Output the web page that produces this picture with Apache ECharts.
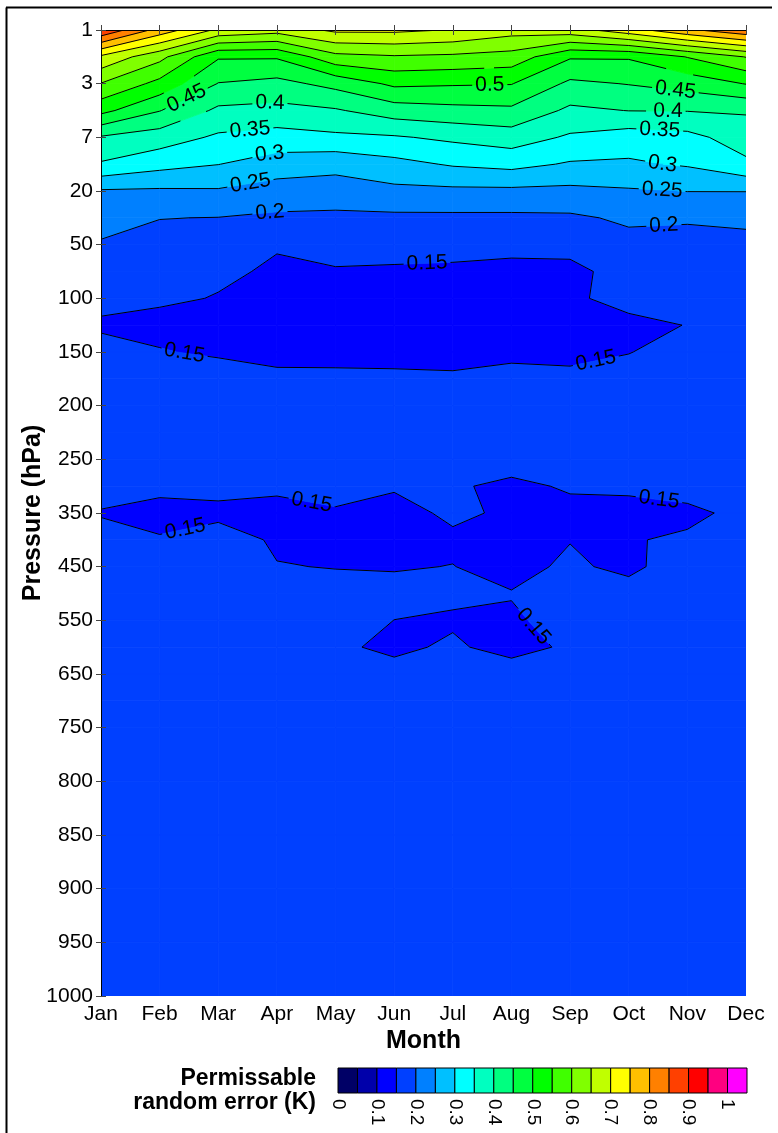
<!DOCTYPE html>
<html><head><meta charset="utf-8">
<script src="https://cdn.jsdelivr.net/npm/echarts@6/dist/echarts.min.js"></script>
<style>html,body{margin:0;padding:0;background:#fff}#c{width:778px;height:1133px}</style>
</head><body><div id="c"></div>
<script>
// ---------- data ----------
const months = ['Jan','Feb','Mar','Apr','May','Jun','Jul','Aug','Sep','Oct','Nov','Dec'];
const tickLevels = [1,3,7,20,50,100,150,200,250,350,450,550,650,750,800,850,900,950,1000];
const rowPressures = [1,2,3,5,7,13.5,20,35,50,75,100,125,150,175,200,225,250,300,350,400,450,500,550,600,650,700,750,800,850,900,950,1000];
const jan = [0.895,0.69,0.598,0.515,0.395,0.345,0.245,0.22,0.195,0.175,0.16,0.145,0.162,0.17,0.172,0.17,0.165,0.162,0.148,0.16,0.165,0.168,0.17,0.17,0.172,0.172,0.173,0.174,0.175,0.175,0.176,0.176];
const feb = [0.78,0.615,0.535,0.452,0.375,0.317,0.243,0.201,0.185,0.172,0.155,0.14,0.152,0.17,0.172,0.168,0.16,0.156,0.142,0.152,0.162,0.166,0.168,0.17,0.17,0.172,0.173,0.174,0.175,0.175,0.176,0.176];
const mar = [0.69,0.505,0.448,0.39,0.342,0.301,0.245,0.199,0.175,0.155,0.1485,0.14,0.145,0.168,0.172,0.168,0.163,0.1598,0.142,0.1649,0.168,0.17,0.17,0.17,0.172,0.172,0.173,0.174,0.175,0.175,0.176,0.176];
const apr = [0.67,0.505,0.435,0.385,0.33,0.277,0.228,0.192,0.152,0.1462,0.138,0.135,0.14,0.1575,0.17,0.168,0.162,0.1558,0.14,0.1456,0.1512,0.165,0.168,0.17,0.17,0.172,0.173,0.174,0.175,0.175,0.176,0.176];
const may = [0.71,0.585,0.465,0.395,0.34,0.265,0.2275,0.189,0.175,0.1445,0.138,0.135,0.14,0.157,0.168,0.167,0.165,0.17,0.1439,0.142,0.149,0.16,0.165,0.1541,0.165,0.168,0.172,0.174,0.175,0.175,0.176,0.176];
const jun = [0.71,0.595,0.51,0.425,0.345,0.285,0.238,0.19,0.175,0.1412,0.137,0.135,0.14,0.156,0.166,0.165,0.162,0.153,0.14,0.14,0.148,0.1585,0.1498,0.145,0.1585,0.165,0.168,0.172,0.174,0.175,0.176,0.176];
const jul = [0.698,0.59,0.505,0.435,0.36,0.305,0.24,0.19,0.175,0.137,0.135,0.135,0.141,0.1539,0.163,0.165,0.165,0.155,0.1554,0.1448,0.1506,0.155,0.1468,0.1538,0.163,0.166,0.17,0.172,0.174,0.175,0.176,0.176];
const aug = [0.67,0.58,0.502,0.44,0.375,0.315,0.24,0.19,0.165,0.135,0.135,0.135,0.14,0.164,0.168,0.17,0.168,0.141,0.1454,0.138,0.14,0.1515,0.1459,0.1407,0.1634,0.166,0.17,0.172,0.174,0.175,0.176,0.176];
const sep = [0.68,0.505,0.44,0.39,0.343,0.295,0.238,0.192,0.172,0.1316,0.145,0.138,0.14,0.159,0.168,0.17,0.168,0.1546,0.1387,0.149,0.1555,0.162,0.1605,0.1542,0.165,0.168,0.17,0.172,0.174,0.175,0.176,0.176];
const oct = [0.73,0.505,0.452,0.401,0.325,0.293,0.245,0.208,0.185,0.178,0.1602,0.142,0.1485,0.1685,0.172,0.17,0.165,0.1556,0.14,0.1485,0.142,0.1636,0.168,0.168,0.17,0.172,0.173,0.174,0.175,0.175,0.176,0.176];
const nov = [0.79,0.552,0.47,0.402,0.335,0.305,0.251,0.207,0.178,0.18,0.17,0.1508,0.168,0.172,0.172,0.17,0.165,0.1589,0.145,0.1532,0.169,0.17,0.172,0.172,0.173,0.173,0.174,0.174,0.175,0.175,0.176,0.176];
const dec = [0.84,0.602,0.502,0.405,0.375,0.34,0.251,0.215,0.18,0.178,0.175,0.172,0.172,0.172,0.172,0.17,0.165,0.16,0.1559,0.16,0.168,0.17,0.172,0.172,0.173,0.173,0.174,0.174,0.175,0.175,0.176,0.176];
const contourLevels = [0.05,0.1,0.15,0.2,0.25,0.3,0.35,0.4,0.45,0.5,0.55,0.6,0.65,0.7,0.75,0.8,0.85,0.9,0.95,1.0];
const bandColors = ['#000066','#0000aa','#0000ff','#0040ff','#0080ff','#00c0ff','#00ffff','#00ffc0','#00ff80','#00ff40','#00ff00','#40ff00','#80ff00','#c0ff00','#ffff00','#ffc000','#ff8000','#ff4000','#ff0000','#ff0080','#ff00ff'];
const legendTicks = ['0','0.1','0.2','0.3','0.4','0.5','0.6','0.7','0.8','0.9','1'];
// contour label: text, approx month position, approx pressure
const contourLabels = [
  ['0.45',1.45,4],['0.4',2.88,4.36],['0.35',2.54,6.4],['0.3',2.88,11.3],['0.25',2.54,17.4],['0.2',2.88,31.7],
  ['0.5',6.63,3],['0.45',9.8,3.3],['0.4',9.67,5],['0.35',9.53,6.4],['0.3',9.58,13.2],['0.25',9.57,19.7],['0.2',9.6,39.5],
  ['0.15',5.56,67],['0.15',1.43,148],['0.15',8.44,158.5],['0.15',3.6,326],['0.15',1.42,372],['0.15',9.52,322],['0.15',7.4,559]
];

// ---------- helpers ----------
const columns = [jan,feb,mar,apr,may,jun,jul,aug,sep,oct,nov,dec];
const FONT = '"Liberation Sans", Arial, Helvetica, sans-serif';
const LABEL_FONT = '21px ' + FONT;
function pIdx(p){
  for (let i=0;i<tickLevels.length-1;i++){
    if (p<=tickLevels[i+1]) return i+(p-tickLevels[i])/(tickLevels[i+1]-tickLevels[i]);
  }
  return tickLevels.length-1;
}
const rowIdx = rowPressures.map(pIdx);
const cells = [];
for (let c=0;c<columns.length-1;c++) for (let r=0;r<rowPressures.length-1;r++)
  cells.push([c+0.5,(rowIdx[r]+rowIdx[r+1])/2,c,r]);

function lerp(a,b,t){return [a[0]+t*(b[0]-a[0]),a[1]+t*(b[1]-a[1])];}
function clipBand(pts,vals,lo,hi){
  const out=[];
  for (let i=0;i<4;i++){
    const j=(i+1)%4, a=vals[i], b=vals[j];
    if (a>=lo && a<hi) out.push(pts[i]);
    const cr=[];
    [lo,hi].forEach(L=>{
      if (!isFinite(L)) return;
      if ((a-L)*(b-L)<0){const t=(L-a)/(b-a);cr.push([t,lerp(pts[i],pts[j],t)]);}
    });
    cr.sort((p,q)=>p[0]-q[0]);
    cr.forEach(x=>out.push(x[1]));
  }
  return out;
}
function cellSegs(pts,vals,L){
  const cr=[];
  for (let i=0;i<4;i++){
    const j=(i+1)%4,a=vals[i],b=vals[j];
    if ((a-L)*(b-L)<0) cr.push(lerp(pts[i],pts[j],(L-a)/(b-a)));
  }
  if (cr.length===2) return [[cr[0],cr[1]]];
  if (cr.length===4){
    const cv=(vals[0]+vals[1]+vals[2]+vals[3])/4;
    if ((cv-L)*(vals[0]-L)>0) return [[cr[0],cr[1]],[cr[2],cr[3]]];
    return [[cr[3],cr[0]],[cr[1],cr[2]]];
  }
  return [];
}
function cellGeom(api,c,r){
  const corners=[[c,rowIdx[r]],[c+1,rowIdx[r]],[c+1,rowIdx[r+1]],[c,rowIdx[r+1]]];
  const vals=[columns[c][r],columns[c+1][r],columns[c+1][r+1],columns[c][r+1]];
  return {pts:corners.map(p=>api.coord(p)),vals};
}
function closest(a,b,p){
  const dx=b[0]-a[0],dy=b[1]-a[1],l=dx*dx+dy*dy;
  let t=l?((p[0]-a[0])*dx+(p[1]-a[1])*dy)/l:0; t=Math.max(0,Math.min(1,t));
  return [a[0]+t*dx,a[1]+t*dy];
}
function dist(a,b){return Math.hypot(a[0]-b[0],a[1]-b[1]);}
const mctx=document.createElement('canvas').getContext('2d');
mctx.font=LABEL_FONT;
function clipCircle(pieces,C,R){
  const out=[];
  pieces.forEach(([P,Q])=>{
    const d=[Q[0]-P[0],Q[1]-P[1]],f=[P[0]-C[0],P[1]-C[1]];
    const a=d[0]*d[0]+d[1]*d[1],b=2*(f[0]*d[0]+f[1]*d[1]),c=f[0]*f[0]+f[1]*f[1]-R*R;
    const disc=b*b-4*a*c;
    if (a===0||disc<=0){out.push([P,Q]);return;}
    const s=Math.sqrt(disc),t1=(-b-s)/(2*a),t2=(-b+s)/(2*a);
    if (t1>=1||t2<=0){out.push([P,Q]);return;}
    if (t1>0) out.push([P,lerp(P,Q,t1)]);
    if (t2<1) out.push([lerp(P,Q,t2),Q]);
  });
  return out;
}

function fillItem(params,api){
  const c=api.value(2),r=api.value(3);
  const {pts,vals}=cellGeom(api,c,r);
  const vmin=Math.min(...vals),vmax=Math.max(...vals);
  const children=[];
  for (let k=0;k<bandColors.length;k++){
    const lo=k===0?-Infinity:contourLevels[k-1];
    const hi=k===bandColors.length-1?Infinity:contourLevels[k];
    if (vmax<lo||vmin>=hi) continue;
    const poly=clipBand(pts,vals,lo,hi);
    if (poly.length>=3) children.push({type:'polygon',shape:{points:poly},style:{fill:bandColors[k],stroke:bandColors[k],lineWidth:0.8}});
  }
  return {type:'group',children};
}

function lineItem(params,api){
  const segs=[];
  for (let c=0;c<columns.length-1;c++) for (let r=0;r<rowPressures.length-1;r++){
    const {pts,vals}=cellGeom(api,c,r);
    const vmin=Math.min(...vals),vmax=Math.max(...vals);
    contourLevels.forEach(L=>{
      if (L<=vmin||L>=vmax) return;
      cellSegs(pts,vals,L).forEach(s=>segs.push({L,a:s[0],b:s[1]}));
    });
  }
  const labs=[];
  contourLabels.forEach(([txt,mx,p])=>{
    const L=parseFloat(txt),T=api.coord([mx,pIdx(p)]);
    let best=null,bd=Infinity;
    segs.forEach(s=>{if(Math.abs(s.L-L)>1e-9)return;const q=closest(s.a,s.b,T),d=dist(q,T);if(d<bd){bd=d;best=q;}});
    if (!best) return;
    let sx=0,sy=0;
    segs.forEach(s=>{
      if(Math.abs(s.L-L)>1e-9)return;
      if(dist(closest(s.a,s.b,best),best)<16){let dx=s.b[0]-s.a[0],dy=s.b[1]-s.a[1];if(dx<0){dx=-dx;dy=-dy;}sx+=dx;sy+=dy;}
    });
    const w=mctx.measureText(txt).width;
    labs.push({txt,c:best,ang:Math.atan2(sy,sx),R:w/2+3});
  });
  const children=[];
  segs.forEach(s=>{
    let pieces=[[s.a,s.b]];
    labs.forEach(l=>{pieces=clipCircle(pieces,l.c,l.R);});
    pieces.forEach(([P,Q])=>children.push({type:'line',shape:{x1:P[0],y1:P[1],x2:Q[0],y2:Q[1]},style:{stroke:'#000',lineWidth:1}}));
  });
  labs.forEach(l=>children.push({type:'text',x:l.c[0],y:l.c[1],rotation:-l.ang,
    style:{text:l.txt,fill:'#000',font:LABEL_FONT,align:'center',verticalAlign:'middle'}}));
  return {type:'group',children};
}

function legendItem(params,api){
  const i=api.value(0);
  const p0=api.coord([i*0.05,1]),p1=api.coord([(i+1)*0.05,0]);
  return {type:'rect',shape:{x:p0[0],y:p0[1],width:p1[0]-p0[0],height:p1[1]-p0[1]},
    style:{fill:bandColors[i],stroke:'#000',lineWidth:1}};
}

const chart=echarts.init(document.getElementById('c'),null,{renderer:'canvas',width:778,height:1133});
const tickStyle={lineStyle:{color:'#444',width:1}};
chart.setOption({
  animation:false,
  backgroundColor:'#fff',
  textStyle:{fontFamily:FONT},
  grid:[{left:101,top:30,width:645,height:966},{left:338,top:1068,width:409,height:25}],
  xAxis:[
    {type:'value',gridIndex:0,min:0,max:11,interval:1,position:'bottom',z:10,
     axisLine:{lineStyle:{color:'#000',width:1}},axisTick:{length:5,...tickStyle},splitLine:{show:false},
     axisLabel:{formatter:v=>months[v]||'',color:'#000',fontSize:21,margin:8,fontFamily:FONT}},
    {type:'value',gridIndex:0,min:0,max:11,interval:1,position:'top',z:10,
     axisLine:{lineStyle:{color:'#000',width:1}},axisTick:{length:5,...tickStyle},splitLine:{show:false},axisLabel:{show:false}},
    {type:'value',gridIndex:1,min:0,max:1.05,interval:0.1,
     axisLine:{show:false},axisTick:{show:false},splitLine:{show:false},
     axisLabel:{rotate:-90,fontSize:19,color:'#000',margin:6,fontFamily:FONT,showMaxLabel:false,
       formatter:v=>legendTicks[Math.round(v*10)]||''}}
  ],
  yAxis:[
    {type:'value',gridIndex:0,min:0,max:18,interval:1,inverse:true,position:'left',z:10,
     axisLine:{show:true,lineStyle:{color:'#000',width:1}},axisTick:{show:true,length:5,...tickStyle},splitLine:{show:false},
     axisLabel:{formatter:v=>tickLevels[v]!==undefined?String(tickLevels[v]):'',color:'#000',fontSize:21,margin:8,fontFamily:FONT}},
    {type:'value',gridIndex:0,min:0,max:18,interval:1,inverse:true,position:'right',z:10,
     axisLine:{show:true,lineStyle:{color:'#000',width:1}},axisTick:{show:true,length:5,...tickStyle},splitLine:{show:false},axisLabel:{show:false}},
    {type:'value',gridIndex:1,min:0,max:1,show:false}
  ],
  series:[
    {type:'custom',name:'fill',xAxisIndex:0,yAxisIndex:0,silent:true,clip:true,z:1,
     renderItem:fillItem,encode:{x:0,y:1},data:cells},
    {type:'custom',name:'contours',xAxisIndex:0,yAxisIndex:0,silent:true,clip:true,z:2,
     renderItem:lineItem,encode:{x:0,y:1},data:[[5,9]]},
    {type:'custom',name:'legend',xAxisIndex:2,yAxisIndex:2,silent:true,z:2,
     renderItem:legendItem,encode:{x:0},data:bandColors.map((c,i)=>[i])}
  ],
  graphic:[
    {type:'line',shape:{x1:6.5,y1:7.5,x2:6.5,y2:1133},style:{stroke:'#000',lineWidth:2}},
    {type:'line',shape:{x1:6,y1:7.5,x2:772,y2:7.5},style:{stroke:'#000',lineWidth:2}},
    {type:'text',x:423.5,y:1041,style:{text:'Month',font:'bold 25px '+FONT,fill:'#000',align:'center',verticalAlign:'middle'}},
    {type:'text',x:33,y:513,rotation:Math.PI/2,style:{text:'Pressure (hPa)',font:'bold 25px '+FONT,fill:'#000',align:'center',verticalAlign:'middle'}},
    {type:'text',right:778-316,top:1067,style:{text:'Permissable',font:'bold 23px '+FONT,fill:'#000',align:'right'}},
    {type:'text',right:778-316,top:1091,style:{text:'random error (K)',font:'bold 23px '+FONT,fill:'#000',align:'right'}}
  ]
});
</script></body></html>
